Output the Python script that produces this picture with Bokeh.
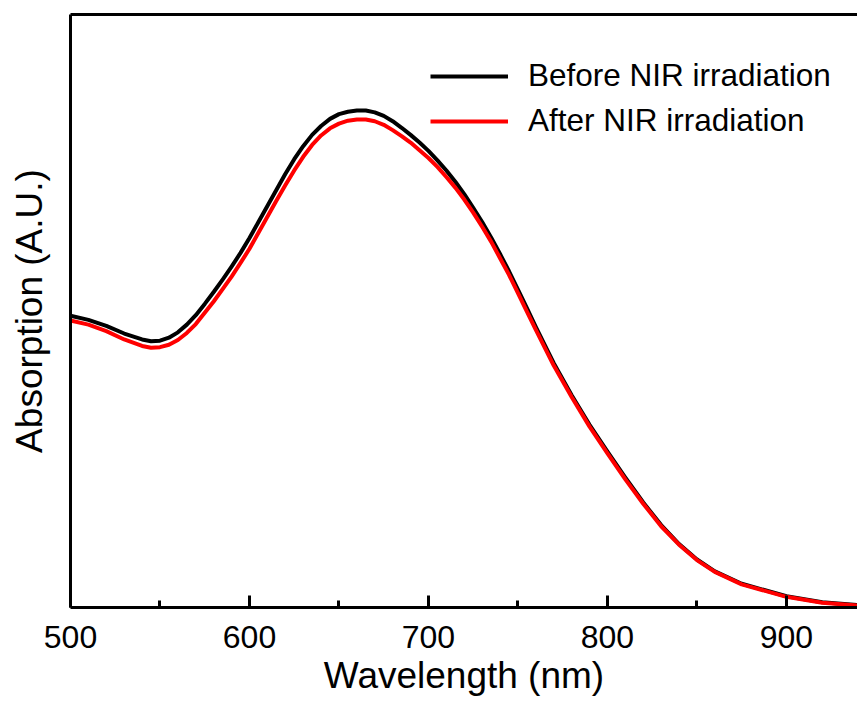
from bokeh.plotting import figure
from bokeh.models import Range1d, FixedTicker, LinearAxis, Legend, LegendItem
from bokeh.embed import file_html
from bokeh.resources import INLINE

wavelength = [500, 510, 520, 530, 540, 545, 550, 555, 560, 565, 570, 575, 580, 585,
              590, 595, 600, 605, 610, 615, 620, 625, 630, 635, 640, 645, 650, 655,
              660, 665, 670, 675, 680, 685, 690, 695, 700, 705, 710, 715, 720, 725,
              730, 735, 740, 745, 750, 755, 760, 770, 780, 790, 800, 810, 820, 830,
              840, 850, 860, 875, 900, 920, 945]
before = [0.492, 0.485, 0.475, 0.462, 0.452, 0.449, 0.450, 0.455, 0.464, 0.477, 0.493,
          0.512, 0.532, 0.553, 0.575, 0.598, 0.623, 0.650, 0.677, 0.704, 0.731, 0.756,
          0.778, 0.797, 0.812, 0.824, 0.832, 0.836, 0.838, 0.838, 0.835, 0.829, 0.820,
          0.809, 0.797, 0.784, 0.770, 0.754, 0.737, 0.718, 0.697, 0.674, 0.650, 0.624,
          0.596, 0.567, 0.536, 0.505, 0.473, 0.412, 0.358, 0.308, 0.263, 0.219, 0.177,
          0.139, 0.107, 0.081, 0.061, 0.040, 0.019, 0.009, 0.003]
after = [0.484, 0.477, 0.466, 0.452, 0.441, 0.438, 0.439, 0.443, 0.451, 0.463, 0.478,
         0.497, 0.516, 0.537, 0.558, 0.581, 0.605, 0.632, 0.659, 0.686, 0.712, 0.737,
         0.760, 0.780, 0.796, 0.808, 0.816, 0.821, 0.823, 0.823, 0.820, 0.814, 0.805,
         0.795, 0.784, 0.771, 0.758, 0.743, 0.726, 0.708, 0.688, 0.666, 0.642, 0.617,
         0.589, 0.561, 0.530, 0.499, 0.468, 0.408, 0.355, 0.305, 0.260, 0.216, 0.175,
         0.137, 0.106, 0.080, 0.060, 0.039, 0.018, 0.008, 0.002]
x_ticks = [500, 600, 700, 800, 900]
x_minor = [550, 650, 750, 850]
series_labels = ["Before NIR irradiation", "After NIR irradiation"]
x_title = "Wavelength (nm)"
y_title = "Absorption (A.U.)"

FONT = "Liberation Sans"

p = figure(width=857, height=698, output_backend="svg", toolbar_location=None,
           x_range=Range1d(500, 939.7), y_range=Range1d(0, 1),
           min_border_left=70, min_border_right=0, min_border_top=14,
           min_border_bottom=91, x_axis_location=None, y_axis_location=None)
p.outline_line_color = None
p.xgrid.visible = False
p.ygrid.visible = False
p.background_fill_color = "white"

xaxis = LinearAxis(ticker=FixedTicker(ticks=x_ticks, minor_ticks=x_minor))
xaxis.axis_line_width = 3
xaxis.major_tick_in = 12
xaxis.major_tick_out = 0
xaxis.major_tick_line_width = 3
xaxis.minor_tick_in = 7
xaxis.minor_tick_out = 0
xaxis.minor_tick_line_width = 3
xaxis.major_label_text_font = FONT
xaxis.major_label_text_font_size = "32px"
xaxis.major_label_text_color = "black"
xaxis.major_label_standoff = 18
xaxis.axis_label = x_title
xaxis.axis_label_text_font = FONT
xaxis.axis_label_text_font_size = "37px"
xaxis.axis_label_text_font_style = "normal"
xaxis.axis_label_text_color = "black"
xaxis.axis_label_standoff = 4
p.add_layout(xaxis, "below")

yaxis = LinearAxis(ticker=FixedTicker(ticks=[]))
yaxis.axis_line_width = 3
yaxis.major_tick_in = 0
yaxis.major_tick_out = 0
yaxis.minor_tick_in = 0
yaxis.minor_tick_out = 0
yaxis.major_label_text_font_size = "0px"
yaxis.major_label_standoff = 0
yaxis.axis_label = y_title
yaxis.axis_label_text_font = FONT
yaxis.axis_label_text_font_size = "37px"
yaxis.axis_label_text_font_style = "normal"
yaxis.axis_label_text_color = "black"
yaxis.axis_label_standoff = 21
p.add_layout(yaxis, "left")

top = LinearAxis(ticker=FixedTicker(ticks=[]))
top.axis_line_width = 3
top.major_tick_in = 0
top.major_tick_out = 0
top.minor_tick_in = 0
top.minor_tick_out = 0
top.major_label_text_font_size = "0px"
top.major_label_standoff = 0
p.add_layout(top, "above")

r1 = p.line(wavelength, before, line_color="black", line_width=4, line_join="round")
r2 = p.line(wavelength, after, line_color="#ff0000", line_width=4, line_join="round")

legend = Legend(items=[LegendItem(label=series_labels[0], renderers=[r1]),
                       LegendItem(label=series_labels[1], renderers=[r2])],
                location=(360, 468))
legend.label_text_font = FONT
legend.label_text_font_size = "31.5px"
legend.label_text_color = "black"
legend.glyph_width = 78
legend.glyph_height = 30
legend.label_standoff = 20
legend.spacing = 8
legend.padding = 0
legend.margin = 0
legend.border_line_color = None
legend.background_fill_alpha = 0
p.add_layout(legend, "center")

open("out.html", "w").write(file_html(p, INLINE))
